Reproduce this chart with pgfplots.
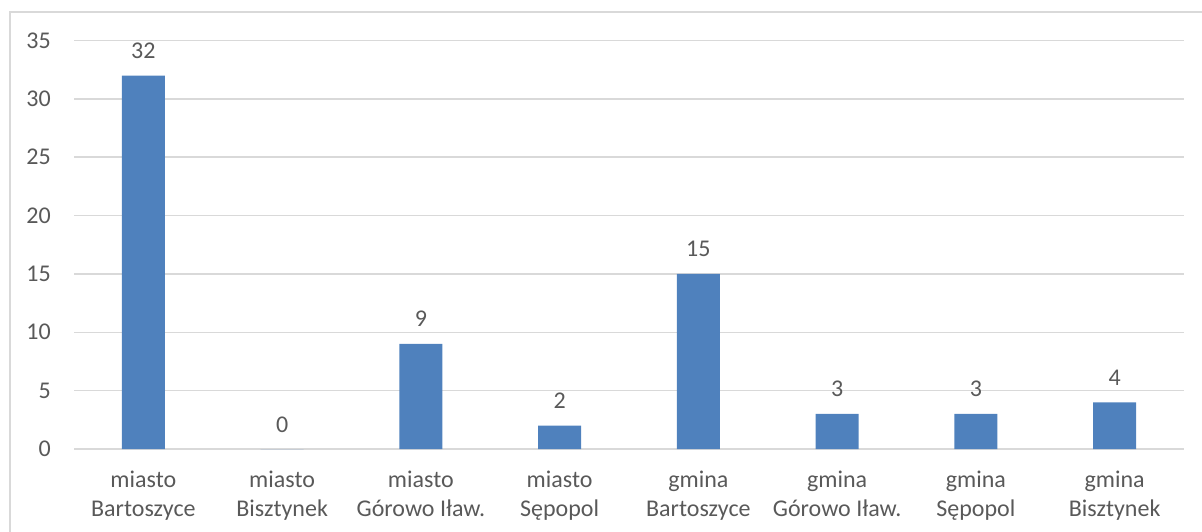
\documentclass[border=0pt]{standalone}
\usepackage{pgfplots}
\pgfplotsset{compat=1.18}
\usepackage{fontspec}
\setmainfont{Carlito}
\definecolor{barblue}{HTML}{4F81BD}
\definecolor{gridgray}{HTML}{D9D9D9}
\definecolor{txtgray}{HTML}{595959}
\begin{document}
\begin{tikzpicture}[x=1pt,y=1pt]
\useasboundingbox (0,0) rectangle (1202,531);
\draw[gridgray, line width=1.3pt] (10,-20) rectangle (1230,519);
\begin{axis}[
  at={(74pt,82pt)}, anchor=south west,
  scale only axis,
  width=1110pt, height=408.5pt,
  xmin=-0.5, xmax=7.5,
  ymin=0, ymax=35,
  ytick={0,5,...,35},
  xtick={0,...,7},
  xticklabels={{miasto\\Bartoszyce},{miasto\\Bisztynek},{miasto\\Górowo Iław.},{miasto\\Sępopol},{gmina\\Bartoszyce},{gmina\\Górowo Iław.},{gmina\\Sępopol},{gmina\\Bisztynek}},
  axis line style={draw=none},
  major tick length=0pt,
  ymajorgrids,
  grid style={gridgray, line width=1.5pt},
  /pgf/number format/assume math mode=true,
  ticklabel style={font=\fontsize{24}{29}\selectfont, text=txtgray},
  yticklabel style={anchor=east, inner sep=0pt, xshift=-23pt},
  xticklabel style={align=center, anchor=north, inner sep=0pt, yshift=-22pt},
  ybar, bar width=0.31,
  nodes near coords,
  every node near coord/.append style={font=\fontsize{24}{29}\selectfont, text=txtgray, anchor=base, inner sep=0pt, yshift=17pt},
  clip=false,
]
\addplot[fill=barblue, draw=none] coordinates {(0,32) (1,0) (2,9) (3,2) (4,15) (5,3) (6,3) (7,4)};
\end{axis}
\end{tikzpicture}
\end{document}
